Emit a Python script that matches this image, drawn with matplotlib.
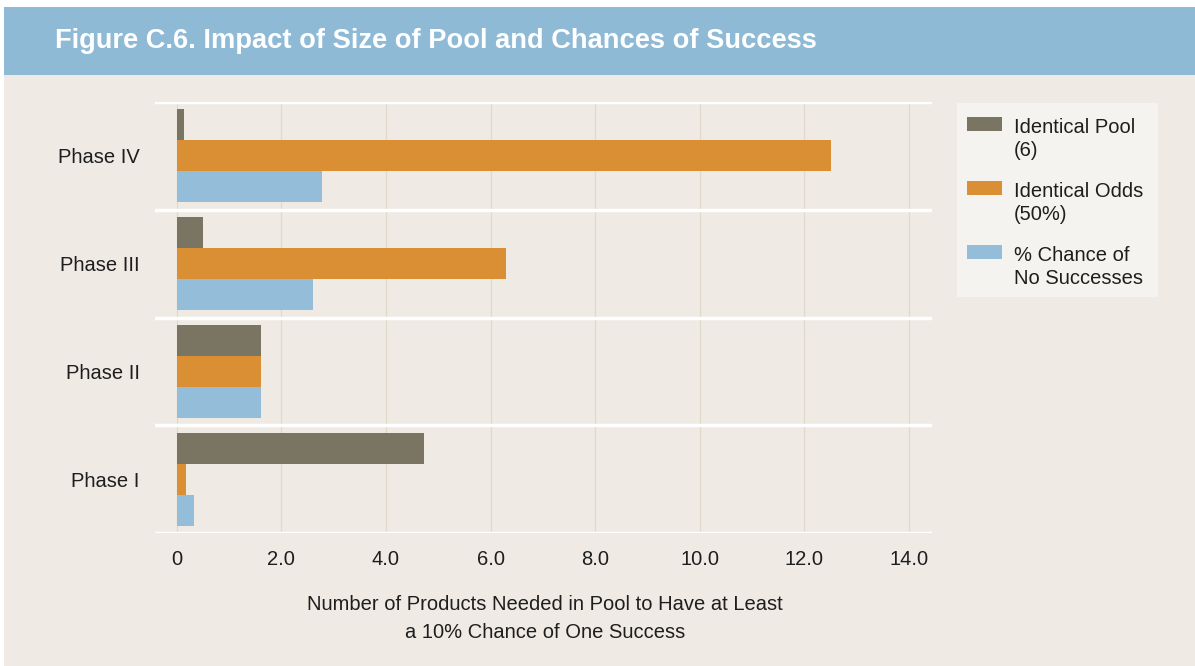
import matplotlib.pyplot as plt
from matplotlib.patches import Rectangle

plt.rcParams['font.family'] = ['Liberation Sans', 'DejaVu Sans']

phases = ['Phase I', 'Phase II', 'Phase III', 'Phase IV']
identical_pool = [4.73, 1.61, 0.51, 0.13]
identical_odds = [0.17, 1.61, 6.30, 12.51]
no_successes = [0.34, 1.61, 2.61, 2.78]
series_labels = ['Identical Pool\n(6)', 'Identical Odds\n(50%)', '% Chance of\nNo Successes']
series_colors = ['#7a7462', '#db8f35', '#93bdd9']
xticks = [0, 2, 4, 6, 8, 10, 12, 14]
xtick_labels = ['0', '2.0', '4.0', '6.0', '8.0', '10.0', '12.0', '14.0']

W, H = 1195, 666
bg = '#efebe4'
txt = '#1e1e1e'
fs = 14.5
fig = plt.figure(figsize=(W / 100, H / 100), dpi=100)
fig.patch.set_facecolor('white')

# page background and header band
fig.add_artist(Rectangle((4 / W, 0), 1, 1 - 75 / H, transform=fig.transFigure,
                         facecolor=bg, edgecolor='none', zorder=0))
fig.add_artist(Rectangle((4 / W, 1 - 75 / H), 1, 68 / H, transform=fig.transFigure,
                         facecolor='#8fbad6', edgecolor='none', zorder=0))
fig.text(55 / W, 1 - 41 / H, 'Figure C.6. Impact of Size of Pool and Chances of Success',
         color='white', fontsize=19.6, fontweight='bold', va='center', ha='left')

ax = fig.add_axes([155 / W, 1 - 533 / H, 777 / W, 431 / H])
ax.set_facecolor(bg)
for s in ax.spines.values():
    s.set_visible(False)

h = 0.288
ypos = list(range(len(phases)))
ax.barh([y + h for y in ypos], identical_pool, height=h, color=series_colors[0], zorder=3)
ax.barh(ypos, identical_odds, height=h, color=series_colors[1], zorder=3)
ax.barh([y - h for y in ypos], no_successes, height=h, color=series_colors[2], zorder=3)

for x in xticks:
    ax.axvline(x, color='#e0dacd', lw=1.0, zorder=1)
for y in [-0.5, 0.5, 1.5, 2.5, 3.5]:
    ax.axhline(y, color='white', lw=2.5, zorder=2)

ax.set_xlim(-0.415, 14.44)
ax.set_ylim(-0.5, 3.5)
ax.set_yticks(ypos)
ax.set_yticklabels(phases, fontsize=fs, color=txt)
ax.set_xticks(xticks)
ax.set_xticklabels(xtick_labels, fontsize=fs, color=txt)
ax.tick_params(axis='y', length=0, pad=11)
ax.tick_params(axis='x', length=0, pad=12)

fig.text(545 / W, 1 - 605 / H, 'Number of Products Needed in Pool to Have at Least',
         fontsize=fs, ha='center', va='center', color=txt)
fig.text(545 / W, 1 - 633 / H, 'a 10% Chance of One Success',
         fontsize=fs, ha='center', va='center', color=txt)

# legend box
fig.add_artist(Rectangle((957 / W, 1 - 297 / H), 201 / W, 194 / H, transform=fig.transFigure,
                         facecolor='#f5f3ef', edgecolor='none', zorder=1))
for i, (lab, col) in enumerate(zip(series_labels, series_colors)):
    top = 117 + i * 64
    fig.add_artist(Rectangle((967 / W, 1 - (top + 14) / H), 35 / W, 14 / H,
                             transform=fig.transFigure, facecolor=col, edgecolor='none', zorder=2))
    fig.text(1014 / W, 1 - (top + 1) / H, lab, fontsize=fs, ha='left', va='top',
             color=txt, linespacing=1.25, zorder=3)

fig.savefig('out.png', dpi=100, facecolor=fig.get_facecolor())
